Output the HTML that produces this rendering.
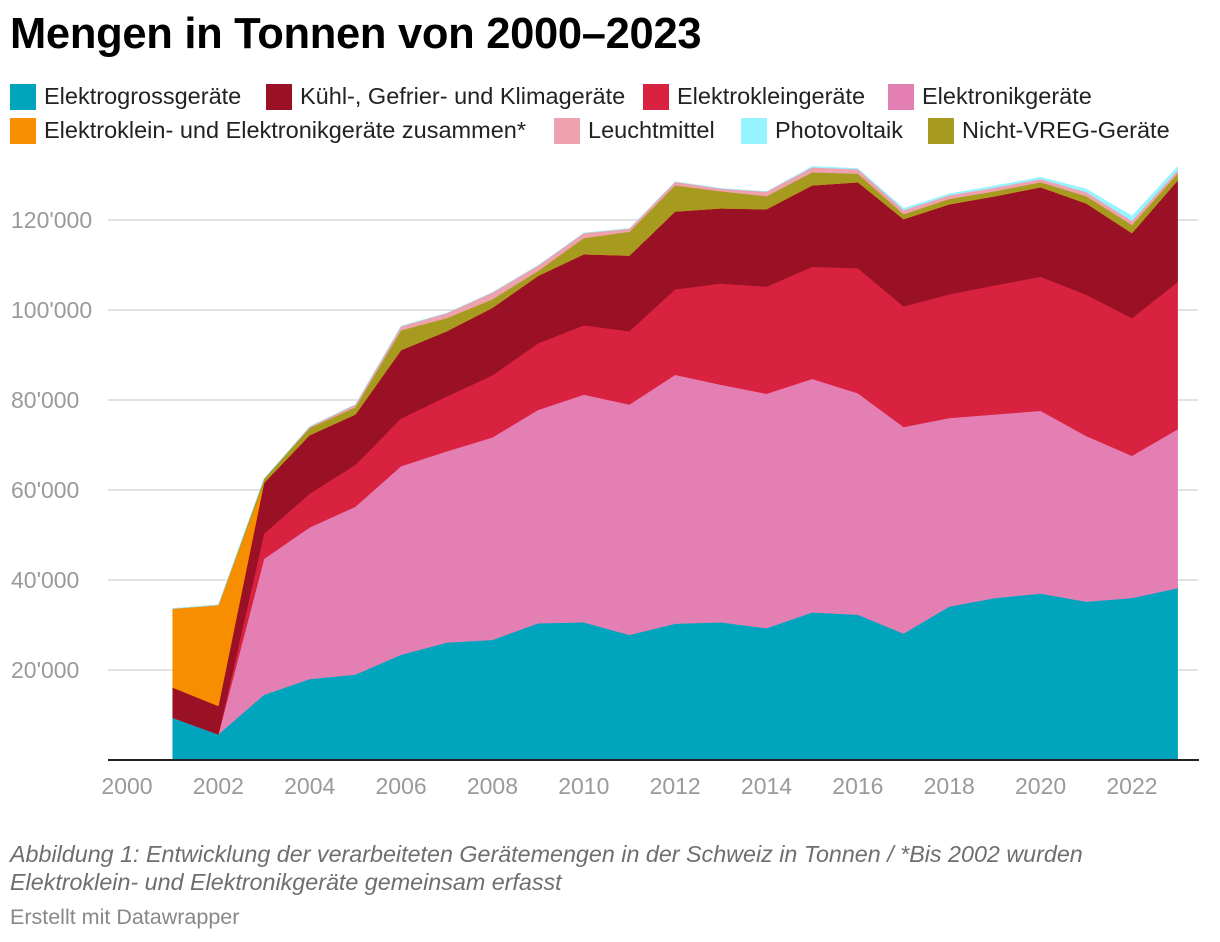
<!DOCTYPE html>
<html><head><meta charset="utf-8">
<style>
body{margin:0;background:#fff;font-family:"Liberation Sans",sans-serif;width:1220px;height:942px;overflow:hidden;position:relative}
#title{position:absolute;left:10px;top:10px;font-size:43.5px;font-weight:bold;color:#000;letter-spacing:-0.3px}
.leg{position:absolute;font-size:23.5px;color:#222;display:flex;align-items:center;white-space:nowrap}
.sw{width:26px;height:26px;margin-right:8px;display:inline-block}
#cap{position:absolute;left:10px;top:840px;font-size:23.3px;font-style:italic;color:#6e6e6e;line-height:28px}
#credit{position:absolute;left:10px;top:905px;font-size:21.5px;color:#888}
</style></head><body>
<div id="title">Mengen in Tonnen von 2000–2023</div>
<div class="leg" style="left:10px;top:83px"><span class="sw" style="background:#00a5bd"></span>Elektrogrossgeräte</div>
<div class="leg" style="left:266px;top:83px"><span class="sw" style="background:#9a1024"></span>Kühl-, Gefrier- und Klimageräte</div>
<div class="leg" style="left:643px;top:83px"><span class="sw" style="background:#d92240"></span>Elektrokleingeräte</div>
<div class="leg" style="left:888px;top:83px"><span class="sw" style="background:#e47fb4"></span>Elektronikgeräte</div>
<div class="leg" style="left:10px;top:117px"><span class="sw" style="background:#f78e00"></span>Elektroklein- und Elektronikgeräte zusammen*</div>
<div class="leg" style="left:554px;top:117px"><span class="sw" style="background:#eda2ad"></span>Leuchtmittel</div>
<div class="leg" style="left:741px;top:117px"><span class="sw" style="background:#95f4ff"></span>Photovoltaik</div>
<div class="leg" style="left:928px;top:117px"><span class="sw" style="background:#a69b1f"></span>Nicht-VREG-Geräte</div>
<svg id="chart" width="1220" height="942" style="position:absolute;left:0;top:0"></svg>
<div id="cap">Abbildung 1: Entwicklung der verarbeiteten Gerätemengen in der Schweiz in Tonnen / *Bis 2002 wurden<br>Elektroklein- und Elektronikgeräte gemeinsam erfasst</div>
<div id="credit">Erstellt mit Datawrapper</div>
<script>
const years=[2001,2002,2003,2004,2005,2006,2007,2008,2009,2010,2011,2012,2013,2014,2015,2016,2017,2018,2019,2020,2021,2022,2023];
const grossValues=[9400,5700,14500,18000,19000,23400,26100,26700,30400,30600,27800,30300,30600,29300,32800,32300,28100,34100,36000,37000,35200,36000,38200];
const elektronikValues=[0,0,30200,33700,37300,41900,42500,45000,47400,50600,51200,55300,52800,52100,51900,49200,45900,41900,40800,40600,36800,31600,35300];
const kleinValues=[0,0,5600,7500,9300,10600,12200,13800,14800,15400,16300,19000,22500,23800,24900,27800,26800,27500,28700,29800,31400,30600,32700];
const kuehlValues=[6700,6300,11300,13000,11200,15200,14500,15000,15000,15800,16800,17300,16700,17200,18100,19100,19400,20000,19800,19900,20300,18900,22600];
const zusammenValues=[17550,22450,0,0,0,0,0,0,0,0,0,0,0,0,0,0,0,0,0,0,0,0,0];
const nichtVregValues=[0,0,900,1600,1600,4400,2900,1900,1100,3600,5300,5800,3800,2900,2900,1900,1100,1200,1100,1100,1600,1800,1500];
const leuchtValues=[0,0,0,300,600,900,1100,1500,1200,1100,700,800,600,1000,1100,1000,900,800,800,700,900,900,700];
const pvValues=[0,0,0,0,0,0,0,0,0,0,0,0,0,0,200,150,400,300,400,400,700,1100,900];
const yTicks=[20000,40000,60000,80000,100000,120000];
const yTickLabels=["20'000","40'000","60'000","80'000","100'000","120'000"];
const xTicks=[2000,2002,2004,2006,2008,2010,2012,2014,2016,2018,2020,2022];

const NS="http://www.w3.org/2000/svg";
const svg=document.getElementById('chart');
const X=y=>127+(y-2000)*45.68;
const Y=v=>760-v*0.0045;
function mk(t,a){const e=document.createElementNS(NS,t);for(const k in a)e.setAttribute(k,a[k]);return e;}
yTicks.forEach((t,i)=>{
  const g=mk('line',{x1:108,x2:1198,y1:Y(t),y2:Y(t),stroke:'#e2e2e2','stroke-width':2});
  
  
  svg.appendChild(g);
  const l=mk('text',{x:11,y:Y(t)+8,'font-size':23,fill:'#9a9a9a','font-family':'Liberation Sans, sans-serif'});
  l.textContent=yTickLabels[i];
  
  
  svg.appendChild(l);
});
const series=[
 ['elektrogross',grossValues,'#00a5bd'],
 ['elektronik',elektronikValues,'#e47fb4'],
 ['elektroklein',kleinValues,'#d92240'],
 ['kuehl',kuehlValues,'#9a1024'],
 ['zusammen',zusammenValues,'#f78e00'],
 ['nicht-vreg',nichtVregValues,'#a69b1f'],
 ['leuchtmittel',leuchtValues,'#eda2ad'],
 ['photovoltaik',pvValues,'#95f4ff']];
let base=years.map(()=>0);
series.forEach(([n,vals,c])=>{
  const top=base.map((b,i)=>b+vals[i]);
  let d='M'+years.map((y,i)=>X(y)+','+Y(top[i])).join('L');
  for(let i=years.length-1;i>=0;i--)d+='L'+X(years[i])+','+Y(base[i]);
  const p=mk('path',{d:d+'Z',fill:c,stroke:c,'stroke-width':0.5});
  
  
  svg.appendChild(p);
  base=top;
});
const ax=mk('line',{x1:108,x2:1199,y1:760,y2:760,stroke:'#222','stroke-width':2});


svg.appendChild(ax);
xTicks.forEach(t=>{
  const l=mk('text',{x:X(t),y:794,'font-size':23,fill:'#9a9a9a','text-anchor':'middle','font-family':'Liberation Sans, sans-serif'});
  l.textContent=t;
  
  
  svg.appendChild(l);
});
</script>
</body></html>
